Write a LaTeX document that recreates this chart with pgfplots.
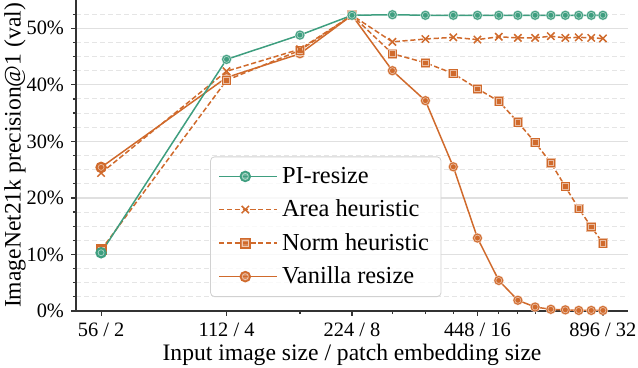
\documentclass[border=0pt]{standalone}
\usepackage{fontspec}
\setmainfont{Liberation Serif}
\usepackage{pgfplots}
\pgfplotsset{compat=1.18}
\definecolor{pigreen}{HTML}{3E9E7F}
\definecolor{heurorange}{HTML}{D06A2C}
\definecolor{spine}{HTML}{333333}

% filled marks with a pale inner ring, like the matplotlib markers
\pgfdeclareplotmark{ringdot}{%
  \pgfpathcircle{\pgfpointorigin}{\pgfplotmarksize}%
  \pgfusepathqfillstroke
  \pgfsetstrokecolor{white}\pgfsetstrokeopacity{0.55}\pgfsetlinewidth{0.35pt}%
  \pgfpathcircle{\pgfpointorigin}{0.6\pgfplotmarksize}%
  \pgfusepathqstroke
}
\pgfdeclareplotmark{ringsq}{%
  \pgfpathrectangle{\pgfpoint{-\pgfplotmarksize}{-\pgfplotmarksize}}{\pgfpoint{2\pgfplotmarksize}{2\pgfplotmarksize}}%
  \pgfusepathqfillstroke
  \pgfsetstrokecolor{white}\pgfsetstrokeopacity{0.55}\pgfsetlinewidth{0.35pt}%
  \pgfpathrectangle{\pgfpoint{-0.6\pgfplotmarksize}{-0.6\pgfplotmarksize}}{\pgfpoint{1.2\pgfplotmarksize}{1.2\pgfplotmarksize}}%
  \pgfusepathqstroke
}

\begin{document}
\begin{tikzpicture}
\begin{axis}[
    name=ax,
    scale only axis,
    width=276pt, height=155.5pt,
    xmode=log,
    xmin=48.75, xmax=1029.2,
    ymin=0, ymax=55,
    axis lines=left,
    axis line style={-, spine, line width=0.7pt},
    xtick={56,112,224,448,896},
    xticklabels={56 / 2, 112 / 4, 224 / 8, 448 / 16, 896 / 32},
    minor xtick={168,280,336,392,504,560,616,672,728,784,840},
    ytick={0,10,20,30,40,50},
    yticklabels={0\%,10\%,20\%,30\%,40\%,50\%},
    minor ytick={2.5,5,7.5,12.5,15,17.5,22.5,25,27.5,32.5,35,37.5,42.5,45,47.5,52.5},
    tick align=outside,
    major tick length=2.5pt, minor tick length=1.6pt,
    tick style={spine, line width=0.6pt},
    ymajorgrids=true, yminorgrids=true,
    major grid style={black!12, line width=0.6pt},
    minor grid style={black!10, line width=0.5pt, dash pattern=on 2.5pt off 1.5pt},
    tick label style={font=\fontsize{10.2}{12}\selectfont},
    label style={font=\fontsize{11.8}{14}\selectfont},
    xlabel={Input image size / patch embedding size},
    ylabel={ImageNet21k precision@1 (val)},
    xlabel style={yshift=3pt},
    ylabel style={yshift=-6.5pt},
    reverse legend,
    legend cell align=left,
    legend image code/.code={\path (0pt,0pt) -- (29pt,0pt);
        \draw[mark repeat=2,mark phase=2,#1] plot coordinates {(0pt,0pt)(13pt,0pt)(26pt,0pt)};},
    legend style={at={(0.243,0.045)}, anchor=south west,
        font=\fontsize{12.2}{14.5}\selectfont,
        draw=black!18, rounded corners=2pt, fill=white, fill opacity=0.8, text opacity=1,
        row sep=2.8pt, inner xsep=4pt, inner ysep=3pt},
    every axis plot/.append style={line width=0.75pt, mark size=2.5pt},
]
\addplot[heurorange, mark=ringdot, mark options={solid, fill=heurorange}] coordinates {
  (56,25.4) (112,41.3) (168,45.5) (224,52.3) (280,42.5) (336,37.2) (392,25.5) (448,12.9)
  (504,5.4) (560,1.9) (616,0.7) (672,0.3) (728,0.2) (784,0.1) (840,0.1) (896,0.1)};
\addlegendentry{Vanilla resize}
\addplot[heurorange, dash pattern=on 2.6pt off 1.3pt, mark=ringsq, mark size=2.4pt, mark options={solid, fill=heurorange}] coordinates {
  (56,10.8) (112,40.8) (168,46.1) (224,52.3) (280,45.5) (336,43.9) (392,42.0) (448,39.3)
  (504,37.1) (560,33.4) (616,29.8) (672,26.2) (728,22.0) (784,18.1) (840,14.9) (896,12.0)};
\addlegendentry{Norm heuristic}
\addplot[heurorange, dash pattern=on 2.6pt off 1.3pt, mark=x, mark size=2.6pt, mark options={solid}] coordinates {
  (56,24.4) (112,42.4) (168,46.3) (224,52.3) (280,47.6) (336,48.1) (392,48.4) (448,48.0)
  (504,48.5) (560,48.3) (616,48.3) (672,48.6) (728,48.3) (784,48.4) (840,48.3) (896,48.2)};
\addlegendentry{Area heuristic}
\addplot[pigreen, mark=ringdot, mark options={solid, fill=pigreen}] coordinates {
  (56,10.3) (112,44.5) (168,48.8) (224,52.3) (280,52.4) (336,52.3) (392,52.3) (448,52.3)
  (504,52.3) (560,52.3) (616,52.3) (672,52.3) (728,52.3) (784,52.3) (840,52.3) (896,52.3)};
\addlegendentry{PI-resize}
\end{axis}
\pgfresetboundingbox
\path ([xshift=-38pt, yshift=-28.5pt]ax.south west) rectangle ([xshift=5pt]ax.north east);
\end{tikzpicture}
\end{document}
